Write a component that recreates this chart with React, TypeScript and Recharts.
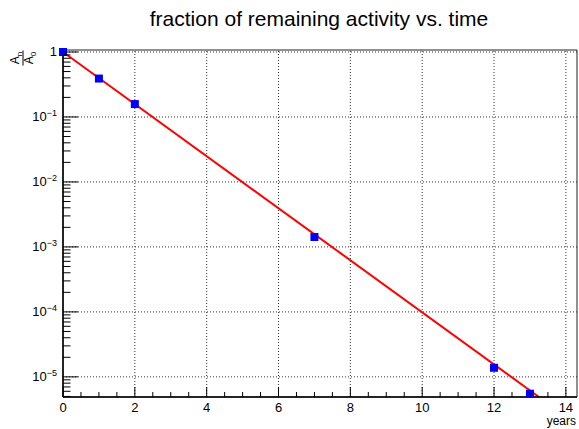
import {
  ComposedChart,
  Line,
  ReferenceArea,
  ReferenceLine,
  Scatter,
  XAxis,
  YAxis,
} from 'recharts';

const years = [0, 1, 2, 7, 12, 13];
const activity = [1, 0.39, 0.158, 0.00142, 1.38e-5, 5.5e-6];

// fitted exponential
const fitYears = [0, 13.25];
const fitActivity = [1, 4.9e-6];

const xMajorTicks = [0, 2, 4, 6, 8, 10, 12, 14];
const yMajorTicks = [1e-5, 1e-4, 1e-3, 1e-2, 1e-1, 1];

const X_DOMAIN: [number, number] = [0, 14.31];
const Y_DOMAIN: [number, number] = [4.9e-6, 1.073];

const FONT = '"Liberation Sans", Arial, Helvetica, sans-serif';

const points = years.map((x, i) => ({ x, y: activity[i] }));
const fitLine = fitYears.map((x, i) => ({ x, y: fitActivity[i] }));

// minor ticks: half steps on x, 2..9 in every decade on y
const xTicks: number[] = [];
for (let v = X_DOMAIN[0]; v <= X_DOMAIN[1]; v += 0.5) xTicks.push(v);

const yTicks: number[] = [];
for (let e = -6; e <= 0; e++) {
  for (let m = 1; m <= 9; m++) {
    const v = m * Math.pow(10, e);
    if (v >= Y_DOMAIN[0] && v <= Y_DOMAIN[1]) yTicks.push(v);
  }
}

function isDecade(v: number) {
  const l = Math.log10(v);
  return Math.abs(l - Math.round(l)) < 1e-6;
}

function YTick(props: any) {
  const { x, y, payload } = props;
  const v = payload.value;
  const major = isDecade(v);
  const e = Math.round(Math.log10(v));
  return (
    <g>
      <line x1={x} x2={x + (major ? 15 : 7.5)} y1={y} y2={y} stroke="#000" />
      {major && (
        <text x={x - 6} y={y + 4.5} textAnchor="end" fontSize={13} fill="#000" fontFamily={FONT}>
          {e === 0 ? (
            '1'
          ) : (
            <>
              10
              <tspan dy={-5} fontSize={9}>{`\u2212${-e}`}</tspan>
            </>
          )}
        </text>
      )}
    </g>
  );
}

function XTick(props: any) {
  const { x, y, payload } = props;
  const v = payload.value;
  const major = xMajorTicks.includes(v);
  return (
    <g>
      <line x1={x} x2={x} y1={y} y2={y - (major ? 10 : 5)} stroke="#000" />
      {major && (
        <text x={x} y={y + 15} textAnchor="middle" fontSize={13} fill="#000" fontFamily={FONT}>
          {v}
        </text>
      )}
    </g>
  );
}

export default function App() {
  return (
    <div style={{ position: 'absolute', left: 0, top: 0, width: 579, height: 429, background: '#fff' }}>
      <ComposedChart width={579} height={429} margin={{ top: 50, right: 2, left: 0, bottom: 0 }}>
        <XAxis
          type="number"
          dataKey="x"
          domain={X_DOMAIN}
          ticks={xTicks}
          interval={0}
          tickSize={0}
          tickMargin={0}
          tickLine={false}
          tick={XTick}
          height={32}
          axisLine={{ stroke: '#000', strokeWidth: 1.5 }}
        />
        <YAxis
          type="number"
          dataKey="y"
          scale="log"
          domain={Y_DOMAIN}
          ticks={yTicks}
          interval={0}
          tickSize={0}
          tickMargin={0}
          tickLine={false}
          tick={YTick}
          width={63}
          axisLine={{ stroke: '#000', strokeWidth: 1.5 }}
        />
        <ReferenceArea
          x1={X_DOMAIN[0]}
          x2={X_DOMAIN[1]}
          y1={Y_DOMAIN[0]}
          y2={Y_DOMAIN[1]}
          fill="none"
          stroke="#222"
          strokeWidth={1}
        />
        {xMajorTicks.slice(1).map((v) => (
          <ReferenceLine key={'gx' + v} x={v} stroke="#333" strokeDasharray="1 2" />
        ))}
        {yMajorTicks.map((v) => (
          <ReferenceLine key={'gy' + v} y={v} stroke="#333" strokeDasharray="1 2" />
        ))}
        <Scatter data={points} dataKey="y" fill="#0000ff" shape="square" isAnimationActive={false} />
        <Line
          data={fitLine}
          dataKey="y"
          stroke="#ff0000"
          strokeWidth={2}
          dot={false}
          activeDot={false}
          isAnimationActive={false}
        />
      </ComposedChart>
      <svg
        width={579}
        height={429}
        style={{ position: 'absolute', left: 0, top: 0, pointerEvents: 'none' }}
        fontFamily={FONT}
      >
        <text x={319} y={26} textAnchor="middle" fontSize={21} fill="#000">
          fraction of remaining activity vs. time
        </text>
        <text x={576} y={425} textAnchor="end" fontSize={12} fill="#000">
          years
        </text>
        <g transform="translate(23,58) rotate(-90)">
          <text x={0} y={-4} textAnchor="middle" fontSize={12} fill="#000">
            A<tspan dy={3} fontSize={8}>n</tspan>
          </text>
          <line x1={-7.5} x2={7.5} y1={0} y2={0} stroke="#000" strokeWidth={1} />
          <text x={0} y={10} textAnchor="middle" fontSize={12} fill="#000">
            A<tspan dy={3} fontSize={8}>0</tspan>
          </text>
        </g>
      </svg>
    </div>
  );
}
